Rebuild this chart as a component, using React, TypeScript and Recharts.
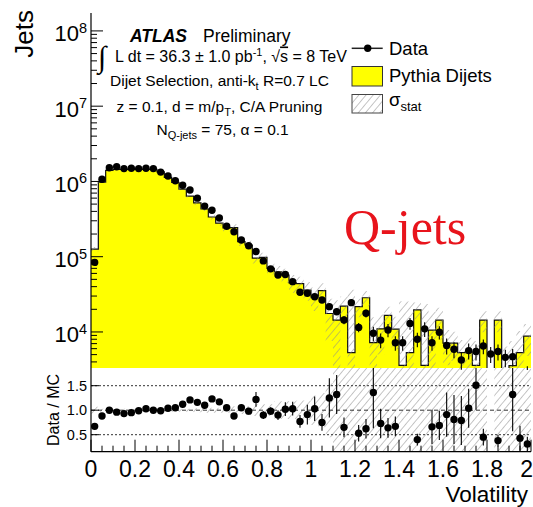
import React from 'react';
import { ComposedChart, Area, Scatter, ErrorBar, XAxis, YAxis, ReferenceLine } from 'recharts';

const SANS = '"Liberation Sans", Arial, Helvetica, sans-serif';
const SERIF = '"Liberation Serif", "Times New Roman", serif';

// Volatility binning: 60 bins of width 1/30 on [0, 2]
const BIN_COUNT = 60;
const X_MIN = 0;
const X_MAX = 2;
const BIN_WIDTH = (X_MAX - X_MIN) / BIN_COUNT;

// Jets per bin, data
const dataCounts = [
  8.4e4, 1.07e6, 1.52e6, 1.57e6, 1.48e6, 1.5e6, 1.48e6, 1.5e6, 1.48e6, 1.33e6,
  1.18e6, 1.02e6, 8.9e5, 7.7e5, 6.0e5, 4.7e5, 4.14e5, 3.27e5, 2.54e5, 2.15e5,
  1.67e5, 1.4e5, 1.17e5, 8.8e4, 6.9e4, 5.7e4, 5.8e4, 4.66e4, 3.37e4, 3.27e4,
  2.94e4, 2.66e4, 2.17e4, 1.86e4, 1.44e4, 2.45e4, 1.15e4, 1.77e4, 9.6e3, 7.8e3,
  1.06e4, 7.2e3, 7.2e3, 1.3e4, 8.0e3, 1.1e4, 7.2e3, 9.9e3, 6.6e3, 5.9e3,
  4.25e3, 5.65e3, 5.5e3, 6.5e3, 5.1e3, 5.5e3, 4.6e3, 4.7e3, 2.3e3, 2.7e3,
];
// Relative statistical uncertainty on the data points
const dataRelErr = [
  0.01, 0.01, 0.01, 0.01, 0.01, 0.01, 0.01, 0.01, 0.01, 0.01,
  0.01, 0.01, 0.01, 0.01, 0.01, 0.01, 0.01, 0.01, 0.01, 0.01,
  0.02, 0.02, 0.02, 0.03, 0.03, 0.04, 0.04, 0.05, 0.06, 0.06,
  0.07, 0.08, 0.1, 0.1, 0.12, 0.1, 0.14, 0.12, 0.22, 0.22,
  0.2, 0.22, 0.22, 0.18, 0.22, 0.22, 0.22, 0.2, 0.24, 0.24,
  0.26, 0.24, 0.24, 0.22, 0.24, 0.24, 0.26, 0.26, 0.3, 0.3,
];
// Pythia dijet prediction per bin
const mcCounts = [
  1.26e5, 9.8e5, 1.4e6, 1.45e6, 1.45e6, 1.45e6, 1.45e6, 1.45e6, 1.45e6, 1.34e6,
  1.13e6, 9.7e5, 7.9e5, 6.4e5, 5.2e5, 4.3e5, 3.37e5, 2.8e5, 2.42e5, 2.44e5,
  1.59e5, 1.43e5, 9.6e4, 9.8e4, 7.0e4, 6.3e4, 5.7e4, 4.5e4, 4.4e4, 3.6e4,
  2.9e4, 3.55e4, 1.76e4, 1.44e4, 2.2e4, 5.3e3, 2.17e4, 2.85e4, 7.2e3, 1.1e4,
  1.66e4, 1.09e4, 3.6e3, 5.3e3, 1.96e4, 3.6e3, 1.06e4, 1.44e4, 7.1e3, 7.1e3,
  5.3e3, 5.4e3, 3.6e3, 1.44e4, 2.0e3, 1.44e4, 2.4e3, 3.56e3, 5.3e3, 8.8e3,
];
// Absolute statistical uncertainty on the prediction
const mcStatErr = [
  9e3, 3e4, 4e4, 4e4, 4e4, 4e4, 4e4, 4e4, 4e4, 4e4,
  4e4, 4e4, 3.5e4, 3e4, 3e4, 2.5e4, 2.5e4, 2.5e4, 2.5e4, 2.5e4,
  2e4, 2e4, 1.5e4, 1.5e4, 1.2e4, 1.2e4, 1.2e4, 1.2e4, 1e4, 1e4,
  1e4, 9e3, 1e4, 1.2e4, 7.5e3, 3.1e4, 6e3, 6.5e3, 8.5e3, 6e3,
  5e3, 5e3, 2.2e4, 2e4, 5e3, 2e4, 8e3, 6.5e3, 3.5e3, 3e3,
  2.5e3, 3e3, 4e3, 4.5e3, 0, 4.5e3, 4e3, 4e3, 5e3, 4e3,
];
// Data / MC, null where the point falls outside the panel
const ratioValues: (number | null)[] = [
  0.67, 0.88, 1.0, 0.96, 0.93, 0.95, 0.99, 1.03, 1.0, 0.99,
  1.04, 1.05, 1.12, 1.21, 1.16, 1.1, 1.23, 1.17, 1.05, 0.88,
  1.05, 0.98, 1.22, 0.9, 0.98, 0.9, 1.02, 1.03, 0.77, 0.91,
  1.03, 0.75, 1.25, 1.32, 0.65, null, 0.53, 0.62, 1.36, 0.73,
  0.64, 0.67, null, null, 0.4, null, 0.66, 0.69, 0.91, 0.81,
  0.79, 1.04, 1.51, 0.45, null, 0.38, null, 1.32, 0.43, 0.31,
];
const ratioErr = [
  0.02, 0.02, 0.02, 0.02, 0.02, 0.02, 0.02, 0.02, 0.02, 0.02,
  0.02, 0.02, 0.02, 0.02, 0.03, 0.03, 0.03, 0.03, 0.04, 0.05,
  0.06, 0.07, 0.15, 0.08, 0.08, 0.1, 0.14, 0.14, 0.13, 0.2,
  0.25, 0.17, 0.4, 0.4, 0.2, 0, 0.17, 0.2, 0.73, 0.3,
  0.2, 0.2, 0, 0, 0.12, 0, 0.35, 0.3, 0.45, 0.5,
  0.5, 0.4, 0.5, 0.17, 0, 0.12, 0, 0.75, 0.25, 0.15,
];
// Half width of the relative MC stat band in the ratio panel
const ratioBandErr = [
  0.07, 0.03, 0.03, 0.03, 0.03, 0.03, 0.03, 0.03, 0.03, 0.03,
  0.03, 0.03, 0.03, 0.03, 0.04, 0.05, 0.05, 0.05, 0.05, 0.08,
  0.08, 0.08, 0.12, 0.12, 0.12, 0.18, 0.18, 0.18, 0.2, 0.2,
  0.3, 0.35, 0.55, 1, 1, 1, 1, 1, 1, 1,
  1, 1, 1, 1, 1, 1, 1, 1, 1, 1,
  1, 1, 1, 1, 0, 1, 1, 1, 1, 1,
];

// Axis ticks and labels
const xMajorTicks = [0, 0.2, 0.4, 0.6, 0.8, 1, 1.2, 1.4, 1.6, 1.8, 2];
const xTickLabels = ['0', '0.2', '0.4', '0.6', '0.8', '1', '1.2', '1.4', '1.6', '1.8', '2'];
const xAllTicks = Array.from({ length: 41 }, (_, i) => Math.round(i * 5) / 100);
const yDecades = [1e4, 1e5, 1e6, 1e7, 1e8];
const yDecadeLabels = ['4', '5', '6', '7', '8'];
const ratioTicks = [0.5, 1, 1.5];
const ratioTickLabels = ['0.5', '1.0', '1.5'];

const MAIN_Y_MIN = 3320;
const MAIN_Y_MAX = 1.73e8;
const RATIO_Y_MIN = 0.153;
const RATIO_Y_MAX = 1.861;
const BAND_FLOOR = 1000;

const yAllTicks: number[] = [];
[1e3, 1e4, 1e5, 1e6, 1e7, 1e8].forEach((d) => {
  for (let m = 1; m <= 9; m++) {
    const v = d * m;
    if (v >= MAIN_Y_MIN && v <= MAIN_Y_MAX) yAllTicks.push(v);
  }
});

const binLowEdges = Array.from({ length: BIN_COUNT }, (_, i) => X_MIN + i * BIN_WIDTH);

const histRows = [...binLowEdges, X_MAX].map((x, k) => {
  const i = Math.min(k, BIN_COUNT - 1);
  const mc = mcCounts[i];
  const e = mcStatErr[i];
  return { x, mc, band: [Math.max(mc - e, BAND_FLOOR), mc + e] };
});

const pointRows = binLowEdges.map((lo, i) => {
  const y = dataCounts[i];
  const e = y * dataRelErr[i];
  return { x: lo + BIN_WIDTH / 2, y, err: [e, e] };
});

const ratioBandRows = [...binLowEdges, X_MAX].map((x, k) => {
  const b = ratioBandErr[Math.min(k, BIN_COUNT - 1)];
  return { x, band: [1 - b, 1 + b] };
});

const ratioPointRows = binLowEdges
  .map((lo, i) => ({ x: lo + BIN_WIDTH / 2, r: ratioValues[i], err: ratioErr[i] }))
  .filter((p) => p.r !== null);

const isMajorX = (v: number) => Math.abs(v * 5 - Math.round(v * 5)) < 1e-6;
const xLabelIndex = (v: number) => xMajorTicks.findIndex((t) => Math.abs(t - v) < 1e-6);
const decadeIndex = (v: number) => yDecades.findIndex((d) => Math.abs(d - v) / d < 1e-6);

// ---- tick renderers (all ticks point into the frame) ----
const MainBottomTick = (p: any) => (
  <line x1={p.x} x2={p.x} y1={p.y} y2={p.y - 12} stroke="#000" strokeWidth={1} />
);
const MainTopTick = (p: any) => (
  <line x1={p.x} x2={p.x} y1={p.y} y2={p.y + 12} stroke="#000" strokeWidth={1} />
);
const LeftLogTick = (p: any) => {
  const v = p.payload.value;
  const di = decadeIndex(v);
  const major = di >= 0;
  return (
    <g>
      <line x1={p.x} x2={p.x + (major ? 12 : 6)} y1={p.y} y2={p.y} stroke="#000" strokeWidth={1} />
      {major && (
        <text x={p.x - 4} y={p.y + 10.5} textAnchor="end" fontFamily={SANS} fontSize={22} fill="#000">
          10
          <tspan dy={-8.5} fontSize={14.5}>{yDecadeLabels[di]}</tspan>
        </text>
      )}
    </g>
  );
};
const RightLogTick = (p: any) => {
  const major = decadeIndex(p.payload.value) >= 0;
  return <line x1={p.x} x2={p.x - (major ? 12 : 6)} y1={p.y} y2={p.y} stroke="#000" strokeWidth={1} />;
};
const RatioBottomTick = (p: any) => {
  const v = p.payload.value;
  const major = isMajorX(v);
  const idx = xLabelIndex(v);
  const last = idx === xMajorTicks.length - 1;
  return (
    <g>
      <line x1={p.x} x2={p.x} y1={p.y} y2={p.y - (major ? 12 : 6)} stroke="#000" strokeWidth={1} />
      {major && idx >= 0 && (
        <text x={last ? p.x + 2 : p.x} y={p.y + 25} textAnchor={last ? 'end' : 'middle'} fontFamily={SANS} fontSize={23} fill="#000">
          {xTickLabels[idx]}
        </text>
      )}
    </g>
  );
};
const RatioTopTick = (p: any) => {
  const major = isMajorX(p.payload.value);
  return <line x1={p.x} x2={p.x} y1={p.y} y2={p.y + (major ? 12 : 8)} stroke="#000" strokeWidth={1} />;
};
const RatioLeftTick = (p: any) => {
  const idx = ratioTicks.findIndex((t) => Math.abs(t - p.payload.value) < 1e-6);
  return (
    <g>
      <line x1={p.x} x2={p.x + 8} y1={p.y} y2={p.y} stroke="#000" strokeWidth={1} />
      <text x={p.x - 4} y={p.y + 5} textAnchor="end" fontFamily={SANS} fontSize={14.5} fill="#000">
        {ratioTickLabels[idx]}
      </text>
    </g>
  );
};
const RatioRightTick = (p: any) => (
  <line x1={p.x} x2={p.x - 8} y1={p.y} y2={p.y} stroke="#000" strokeWidth={1} />
);

const DataDot = (p: any) =>
  p.cx == null || p.cy == null ? <g /> : <circle cx={p.cx} cy={p.cy} r={3.7} fill="#000" />;

const Hatch = ({ id }: { id: string }) => (
  <pattern id={id} patternUnits="userSpaceOnUse" width={5.5} height={5.5} patternTransform="rotate(40)">
    <line x1={0} y1={0} x2={0} y2={5.5} stroke="#8c8c8c" strokeWidth={1} />
  </pattern>
);

const axisLine = { stroke: '#000', strokeWidth: 1.2 };

export default function App() {
  return (
    <div style={{ position: 'absolute', left: 0, top: 0, width: 533, height: 507, background: '#fff', overflow: 'hidden' }}>
      <div style={{ position: 'absolute', left: 0, top: 0 }}>
        <ComposedChart width={533} height={370} data={histRows} margin={{ top: 13, right: 2, bottom: 2, left: 0 }}>
          <defs>
            <Hatch id="hatchMain" />
          </defs>
          <XAxis dataKey="x" type="number" domain={[X_MIN, X_MAX]} ticks={xAllTicks} interval={0} tickSize={0} tickMargin={0}
            height={0} tick={MainBottomTick} tickLine={false} axisLine={axisLine} allowDataOverflow />
          <XAxis xAxisId="top" orientation="top" dataKey="x" type="number" domain={[X_MIN, X_MAX]} ticks={xAllTicks} interval={0}
            tickSize={0} tickMargin={0} height={0} tick={MainTopTick} tickLine={false} axisLine={axisLine} allowDataOverflow />
          <YAxis type="number" scale="log" domain={[MAIN_Y_MIN, MAIN_Y_MAX]} ticks={yAllTicks} interval={0} tickSize={0}
            tickMargin={0} width={91} tick={LeftLogTick} tickLine={false} axisLine={axisLine} allowDataOverflow />
          <YAxis yAxisId="right" orientation="right" type="number" scale="log" domain={[MAIN_Y_MIN, MAIN_Y_MAX]} ticks={yAllTicks}
            interval={0} tickSize={0} tickMargin={0} width={0} tick={RightLogTick} tickLine={false} axisLine={axisLine} allowDataOverflow />
          <Area type="stepAfter" dataKey="mc" baseValue={MAIN_Y_MIN} fill="#ffff00" fillOpacity={1} stroke="#111" strokeWidth={1.2}
            isAnimationActive={false} />
          <Area type="stepAfter" dataKey="band" fill="url(#hatchMain)" fillOpacity={1} stroke="none" isAnimationActive={false} />
          <Scatter data={pointRows} dataKey="y" shape={DataDot} isAnimationActive={false}>
            <ErrorBar dataKey="err" direction="y" width={0} stroke="#000" strokeWidth={1.1} />
          </Scatter>
        </ComposedChart>
      </div>

      <div style={{ position: 'absolute', left: 0, top: 368 }}>
        <ComposedChart width={533} height={139} data={ratioBandRows} margin={{ top: 0, right: 2, bottom: 0, left: 0 }}>
          <defs>
            <Hatch id="hatchRatio" />
          </defs>
          <XAxis dataKey="x" type="number" domain={[X_MIN, X_MAX]} ticks={xAllTicks} interval={0} tickSize={0} tickMargin={0}
            height={55.3} tick={RatioBottomTick} tickLine={false} axisLine={axisLine} allowDataOverflow />
          <XAxis xAxisId="top" orientation="top" dataKey="x" type="number" domain={[X_MIN, X_MAX]} ticks={xAllTicks} interval={0}
            tickSize={0} tickMargin={0} height={0} tick={RatioTopTick} tickLine={false} axisLine={axisLine} allowDataOverflow />
          <YAxis type="number" domain={[RATIO_Y_MIN, RATIO_Y_MAX]} ticks={ratioTicks} interval={0} tickSize={0} tickMargin={0}
            width={91} tick={RatioLeftTick} tickLine={false} axisLine={axisLine} allowDataOverflow />
          <YAxis yAxisId="right" orientation="right" type="number" domain={[RATIO_Y_MIN, RATIO_Y_MAX]} ticks={ratioTicks} interval={0}
            tickSize={0} tickMargin={0} width={0} tick={RatioRightTick} tickLine={false} axisLine={axisLine} allowDataOverflow />
          <Area type="stepAfter" dataKey="band" fill="url(#hatchRatio)" fillOpacity={1} stroke="none" isAnimationActive={false} />
          <ReferenceLine y={1.5} stroke="#333" strokeDasharray="2 2" strokeWidth={1} />
          <ReferenceLine y={1} stroke="#333" strokeDasharray="4 3" strokeWidth={1} />
          <ReferenceLine y={0.5} stroke="#333" strokeDasharray="2 2" strokeWidth={1} />
          <Scatter data={ratioPointRows} dataKey="r" shape={DataDot} isAnimationActive={false}>
            <ErrorBar dataKey="err" direction="y" width={0} stroke="#000" strokeWidth={1.1} />
          </Scatter>
        </ComposedChart>
      </div>

      <svg width={533} height={507} style={{ position: 'absolute', left: 0, top: 0, pointerEvents: 'none' }}>
        <defs>
          <Hatch id="hatchLegend" />
        </defs>
        {/* axis titles */}
        <text transform="translate(33,10) rotate(-90)" textAnchor="end" fontFamily={SANS} fontSize={26} fill="#000">Jets</text>
        <text transform="translate(59,410) rotate(-90)" textAnchor="middle" fontFamily={SANS} fontSize={16} fill="#000">Data / MC</text>
        <text x={528} y={502} textAnchor="end" fontFamily={SANS} fontSize={22.5} fill="#000">Volatility</text>

        {/* ATLAS labels */}
        <text x={130} y={41.5} fontFamily={SANS} fontSize={17.5} fill="#000">
          <tspan fontWeight="bold" fontStyle="italic">ATLAS</tspan>
          <tspan x={203}>Preliminary</tspan>
        </text>
        <text x={98} y={67} fontFamily={SERIF} fontSize={30} fill="#000">∫</text>
        <text x={115} y={61.5} fontFamily={SANS} fontSize={16} fill="#000">
          L dt = 36.3 ± 1.0 pb
          <tspan dy={-6} fontSize={11}>-1</tspan>
          <tspan dy={6}>, √</tspan>
          <tspan textDecoration="overline">s</tspan>
          <tspan> = 8 TeV</tspan>
        </text>
        <text x={110} y={86} fontFamily={SANS} fontSize={15.5} fill="#000">
          Dijet Selection, anti-k
          <tspan dy={4} fontSize={11}>t</tspan>
          <tspan dy={-4}> R=0.7 LC</tspan>
        </text>
        <text x={116.5} y={111.5} fontFamily={SANS} fontSize={15.5} fill="#000">
          z = 0.1, d = m/p
          <tspan dy={4} fontSize={11}>T</tspan>
          <tspan dy={-4}>, C/A Pruning</tspan>
        </text>
        <text x={156.5} y={135} fontFamily={SANS} fontSize={15.5} fill="#000">
          N
          <tspan dy={4} fontSize={11}>Q-jets</tspan>
          <tspan dy={-4}> = 75, α = 0.1</tspan>
        </text>

        {/* legend */}
        <line x1={351.7} x2={382.7} y1={48.3} y2={48.3} stroke="#222" strokeWidth={1.5} />
        <circle cx={367.7} cy={48.3} r={3.7} fill="#000" />
        <text x={389} y={55} fontFamily={SANS} fontSize={18.5} fill="#000">Data</text>
        <rect x={352} y={66.5} width={30.5} height={19.5} fill="#ffff00" stroke="#333" strokeWidth={1} />
        <text x={389} y={81.7} fontFamily={SANS} fontSize={18.5} fill="#000">Pythia Dijets</text>
        <rect x={352} y={94.5} width={30.5} height={18.5} fill="url(#hatchLegend)" stroke="#444" strokeWidth={1} />
        <text x={389} y={106} fontFamily={SANS} fontSize={18.5} fill="#000">
          σ<tspan dy={5} fontSize={13}>stat</tspan>
        </text>

        <text x={344} y={244} fontFamily={SERIF} fontSize={50} fill="#e8141c">Q-jets</text>
      </svg>
    </div>
  );
}
